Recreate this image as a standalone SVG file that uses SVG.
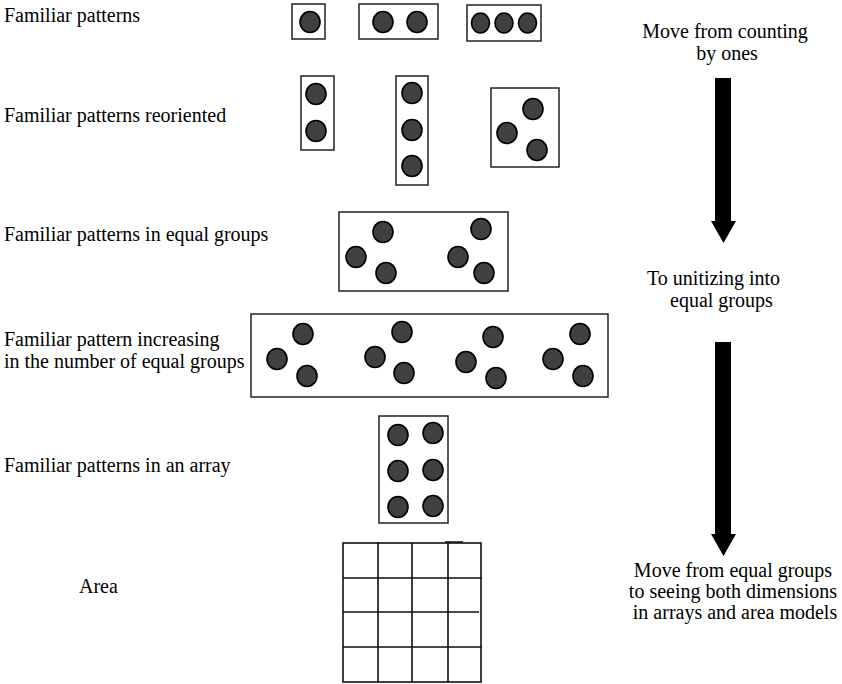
<svg xmlns="http://www.w3.org/2000/svg" width="842" height="684" viewBox="0 0 842 684">
<style>
.lbl{font-family:"Liberation Serif","Times New Roman","DejaVu Serif",serif;font-size:20px;fill:#000}
.box{fill:#fff;stroke:#222;stroke-width:1.5}
.dot{fill:#404040;stroke:#000;stroke-width:1.6}
.grid{stroke:#111;stroke-width:1.6;fill:none}
.arr{fill:#000}
</style>
<rect width="842" height="684" fill="#fff"/>
<g id="labels">
<text class="lbl" x="4" y="22">Familiar patterns</text>
<text class="lbl" x="4" y="122">Familiar patterns reoriented</text>
<text class="lbl" x="4" y="241">Familiar patterns in equal groups</text>
<text class="lbl" x="4" y="346">Familiar pattern increasing</text>
<text class="lbl" x="4" y="368">in the number of equal groups</text>
<text class="lbl" x="4" y="472">Familiar patterns in an array</text>
<text class="lbl" x="79" y="593">Area</text>
</g>
<g id="row1-one">
<rect class="box" x="292" y="4" width="33" height="35"/>
<ellipse class="dot" cx="310" cy="22" rx="10" ry="10.5"/>
</g>
<g id="row1-two">
<rect class="box" x="359" y="4" width="79" height="35"/>
<ellipse class="dot" cx="383" cy="22" rx="10" ry="10.5"/>
<ellipse class="dot" cx="417" cy="22" rx="10" ry="10.5"/>
</g>
<g id="row1-three">
<rect class="box" x="467" y="5" width="74" height="36"/>
<ellipse class="dot" cx="480.5" cy="23" rx="9" ry="10"/>
<ellipse class="dot" cx="504" cy="23" rx="9" ry="10"/>
<ellipse class="dot" cx="527.5" cy="23" rx="9" ry="10"/>
</g>
<g id="row2-two">
<rect class="box" x="301" y="76" width="33" height="74"/>
<ellipse class="dot" cx="316" cy="94" rx="10" ry="10.5"/>
<ellipse class="dot" cx="316" cy="131" rx="10" ry="10.5"/>
</g>
<g id="row2-three">
<rect class="box" x="396" y="76" width="32" height="109"/>
<ellipse class="dot" cx="412" cy="93" rx="10" ry="10.5"/>
<ellipse class="dot" cx="412" cy="130" rx="10" ry="10.5"/>
<ellipse class="dot" cx="412" cy="166" rx="10" ry="10.5"/>
</g>
<g id="row2-triangle">
<rect class="box" x="491" y="88" width="68" height="79"/>
<ellipse class="dot" cx="533" cy="109" rx="10" ry="10.5"/>
<ellipse class="dot" cx="507" cy="133" rx="10" ry="10.5"/>
<ellipse class="dot" cx="537" cy="150" rx="10" ry="10.5"/>
</g>
<g id="row3-equal-groups">
<rect class="box" x="339" y="212" width="169" height="79"/>
<ellipse class="dot" cx="383" cy="232" rx="10" ry="10.5"/>
<ellipse class="dot" cx="356" cy="257" rx="10" ry="10.5"/>
<ellipse class="dot" cx="386" cy="273" rx="10" ry="10.5"/>
<ellipse class="dot" cx="481" cy="229" rx="10" ry="10.5"/>
<ellipse class="dot" cx="458" cy="257" rx="10" ry="10.5"/>
<ellipse class="dot" cx="484" cy="273" rx="10" ry="10.5"/>
</g>
<g id="row4-increasing-groups">
<rect class="box" x="251" y="314" width="357" height="83"/>
<ellipse class="dot" cx="303" cy="334" rx="10" ry="10.5"/>
<ellipse class="dot" cx="277" cy="359" rx="10" ry="10.5"/>
<ellipse class="dot" cx="307" cy="376" rx="10" ry="10.5"/>
<ellipse class="dot" cx="402" cy="332" rx="10" ry="10.5"/>
<ellipse class="dot" cx="375" cy="357" rx="10" ry="10.5"/>
<ellipse class="dot" cx="404" cy="373" rx="10" ry="10.5"/>
<ellipse class="dot" cx="493" cy="337" rx="10" ry="10.5"/>
<ellipse class="dot" cx="466" cy="362" rx="10" ry="10.5"/>
<ellipse class="dot" cx="496" cy="378" rx="10" ry="10.5"/>
<ellipse class="dot" cx="580" cy="334" rx="10" ry="10.5"/>
<ellipse class="dot" cx="553" cy="359" rx="10" ry="10.5"/>
<ellipse class="dot" cx="583" cy="376" rx="10" ry="10.5"/>
</g>
<g id="row5-array">
<rect class="box" x="379" y="416" width="69" height="107"/>
<ellipse class="dot" cx="398" cy="435" rx="10" ry="10.5"/>
<ellipse class="dot" cx="433" cy="433" rx="10" ry="10.5"/>
<ellipse class="dot" cx="398" cy="471" rx="10" ry="10.5"/>
<ellipse class="dot" cx="433" cy="470" rx="10" ry="10.5"/>
<ellipse class="dot" cx="398" cy="507" rx="10" ry="10.5"/>
<ellipse class="dot" cx="433" cy="506" rx="10" ry="10.5"/>
</g>
<g id="row6-area">
<rect class="grid" x="343" y="543" width="138" height="139"/>
<path class="grid" d="M378 542V682M412 543V682M448 543V682M343 578H482M343 612H479M343 647H482M445 542H463"/>
</g>
<g id="right-labels">
<text class="lbl" x="725" y="38" text-anchor="middle">Move from counting</text>
<text class="lbl" x="727" y="60" text-anchor="middle">by ones</text>
<text class="lbl" x="647" y="285">To unitizing into</text>
<text class="lbl" x="670" y="307">equal groups</text>
<text class="lbl" x="733" y="577" text-anchor="middle">Move from equal groups</text>
<text class="lbl" x="733" y="598" text-anchor="middle">to seeing both dimensions</text>
<text class="lbl" x="735" y="619" text-anchor="middle">in arrays and area models</text>
</g>
<g id="connectors">
<path class="arr" d="M715 78H731V221H736L723.5 243L711 221H715Z"/>
<path class="arr" d="M715 342H731V534H736L723.5 556L711 534H715Z"/>
</g>
</svg>
